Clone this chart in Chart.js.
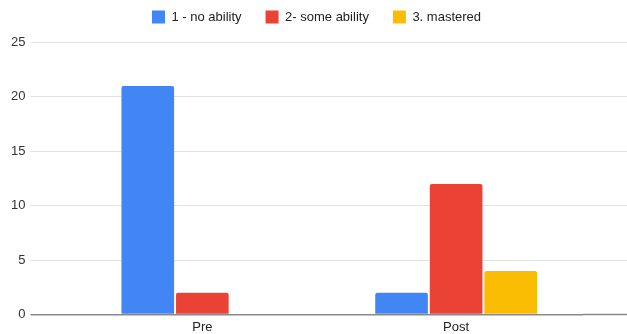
<!DOCTYPE html>
<html><head><meta charset="utf-8">
<script src="https://cdn.jsdelivr.net/npm/chart.js@4/dist/chart.umd.min.js"></script>
<style>html,body{margin:0;padding:0;background:#fff}#wrap{width:627px;height:334px}</style>
</head><body><div id="wrap"><canvas id="c"></canvas></div>
<script>
const categories = ['Pre', 'Post'];
const seriesNames = ['1 - no ability', '2- some ability', '3. mastered'];
const noAbility = [21, 2];
const someAbility = [2, 12];
const mastered = [null, 4];
const yTicks = [0, 5, 10, 15, 20, 25];

const colors = ['#4285F4', '#EA4335', '#FBBC04'];
const seriesData = [noAbility, someAbility, mastered];

const gridColor = (ctx) => (ctx.tick && ctx.tick.value === 0) ? '#8a8a8a' : '#e2e2e2';
const gridWidth = (ctx) => (ctx.tick && ctx.tick.value === 0) ? 1.5 : 1;
const FONT = 'Liberation Sans, Arial, sans-serif';

const legendMargin = {
  id: 'legendMargin',
  beforeInit(chart) {
    const fit = chart.legend.fit;
    chart.legend.fit = function () { fit.bind(chart.legend)(); this.height += 9; };
  }
};

new Chart(document.getElementById('c'), {
  type: 'bar',
  data: {
    labels: categories,
    datasets: seriesData.map((d, i) => ({
      label: seriesNames[i],
      data: d,
      backgroundColor: colors[i],
      borderRadius: 2,
      borderSkipped: 'bottom',
      categoryPercentage: 0.645,
      barPercentage: 0.965
    }))
  },
  plugins: [legendMargin],
  options: {
    responsive: true,
    maintainAspectRatio: false,
    animation: false,
    layout: { padding: { top: -13.5, left: 6, right: 0, bottom: -6 } },
    plugins: {
      legend: {
        position: 'top',
        labels: {
          boxWidth: 13, boxHeight: 13, padding: 24,
          color: '#222', font: { family: FONT, size: 13 }
        }
      },
      tooltip: { enabled: false }
    },
    scales: {
      x: {
        grid: { display: false, drawTicks: false },
        border: { display: false },
        ticks: { color: '#222', font: { family: FONT, size: 13 }, padding: 5 }
      },
      y: {
        min: 0, max: 25,
        afterBuildTicks: (s) => { s.ticks = yTicks.map(v => ({ value: v })); },
        grid: { color: gridColor, lineWidth: gridWidth, drawTicks: true, tickLength: 45, tickColor: gridColor, tickWidth: gridWidth },
        border: { display: false },
        ticks: { color: '#333', font: { family: FONT, size: 13 }, padding: 5 }
      },
      y2: {
        position: 'right',
        min: 0, max: 25,
        afterBuildTicks: (s) => { s.ticks = yTicks.map(v => ({ value: v })); },
        grid: { drawOnChartArea: false, drawTicks: true, tickLength: 44, tickColor: gridColor, tickWidth: gridWidth },
        border: { display: false },
        ticks: { display: false }
      }
    }
  }
});
</script>
</body></html>
